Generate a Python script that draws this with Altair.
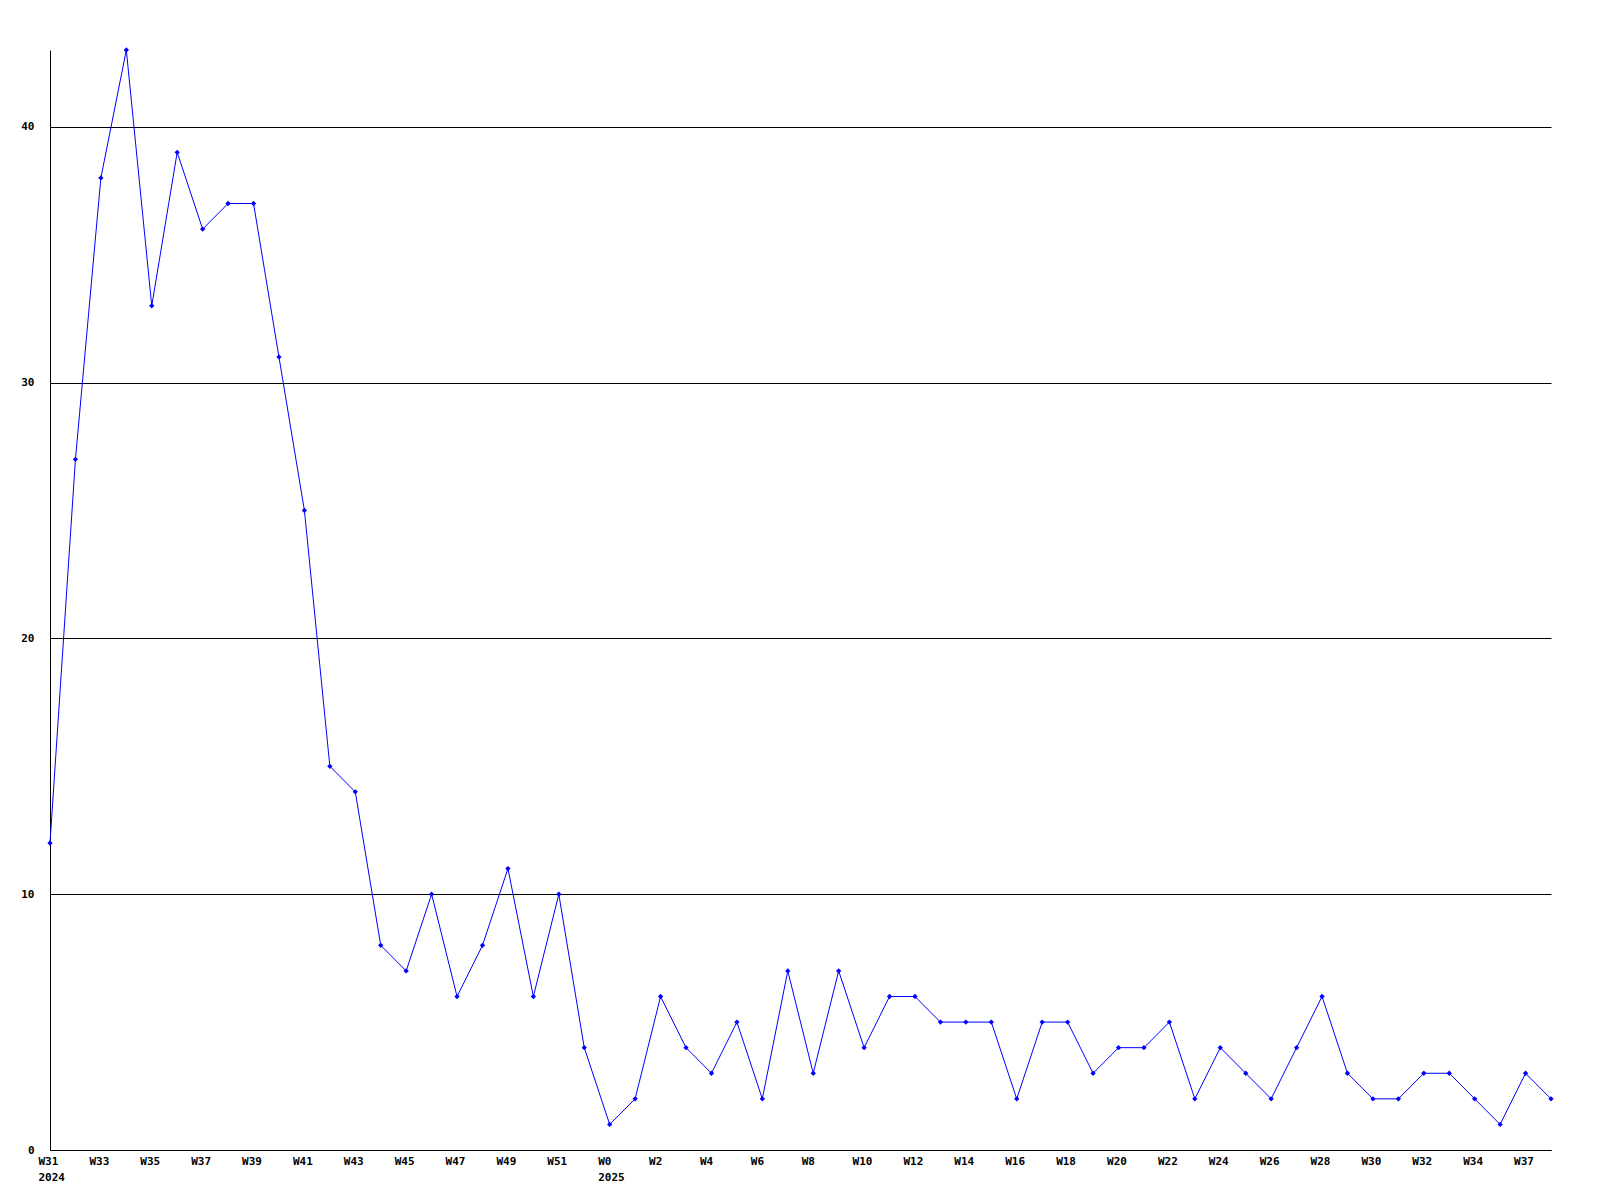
import json
import altair as alt
import pandas as pd

values = [12, 27, 38, 43, 33, 39, 36, 37, 37, 31,
          25, 15, 14, 8, 7, 10, 6, 8, 11, 6,
          10, 4, 1, 2, 6, 4, 3, 5, 2, 7,
          3, 7, 4, 6, 6, 5, 5, 5, 2, 5,
          5, 3, 4, 4, 5, 2, 4, 3, 2, 4,
          6, 3, 2, 2, 3, 3, 2, 1, 3, 2]

tick_labels = ["W31", "W33", "W35", "W37", "W39", "W41", "W43", "W45", "W47", "W49", "W51",
               "W0", "W2", "W4", "W6", "W8", "W10", "W12", "W14", "W16", "W18", "W20",
               "W22", "W24", "W26", "W28", "W30", "W32", "W34", "W37"]
year_labels = {0: "2024", 11: "2025"}
y_ticks = [0, 10, 20, 30, 40]

df = pd.DataFrame({"i": list(range(len(values))), "v": values})

lab_arrays = []
for k, t in enumerate(tick_labels):
    lab_arrays.append([t, year_labels[k]] if k in year_labels else [t])
label_expr = json.dumps(lab_arrays) + "[round(datum.value/2)]"

FONT = "DejaVu Sans Mono"

x = alt.X("i:Q", scale=alt.Scale(domain=[0, len(values) - 1], nice=False, zero=False),
          axis=alt.Axis(values=list(range(0, len(values), 2)), labelExpr=label_expr,
                        title=None, grid=False, ticks=False, domainColor="black",
                        labelAlign="left", labelOffset=-12, labelBaseline="top",
                        labelPadding=5, labelLineHeight=16, labelFont=FONT,
                        labelFontWeight="bold", labelFontSize=11, labelColor="black",
                        labelOverlap=False, labelFlush=False))
y = alt.Y("v:Q", scale=alt.Scale(domain=[0, 43], nice=False),
          axis=alt.Axis(values=y_ticks, title=None, grid=True, gridColor="black",
                        gridOpacity=1, gridWidth=1, ticks=False, domainColor="black",
                        labelPadding=16, labelFont=FONT, labelFontWeight="bold",
                        labelFontSize=11, labelColor="black"))

line = alt.Chart(df).mark_line(color="#0000ff", strokeWidth=1).encode(x=x, y=y)
pts = alt.Chart(df).mark_point(shape="diamond", filled=True, color="#0000ff", size=28,
                               opacity=1).encode(x="i:Q", y="v:Q")

chart = (line + pts).properties(
    width=1501, height=1100,
    autosize=alt.AutoSizeParams(type="none"),
    padding={"left": 42, "top": 42, "right": 20, "bottom": 50},
    background="white",
).configure_view(stroke=None)

chart.save("out.html", embed_options={"renderer": "svg", "actions": False})
